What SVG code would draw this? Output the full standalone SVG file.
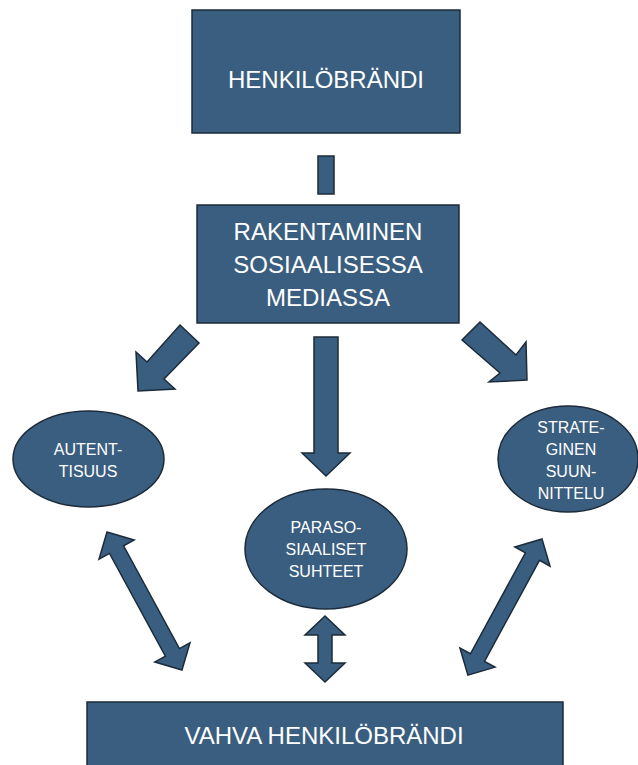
<svg xmlns="http://www.w3.org/2000/svg" width="638" height="765" viewBox="0 0 638 765">
<style>
.shape{fill:#3a5e80;stroke:#1c2b3a;stroke-width:1.5;stroke-linejoin:miter}
.big{font-family:"Liberation Sans",Arial,sans-serif;font-size:24px;fill:#ffffff;text-anchor:middle}
.small{font-family:"Liberation Sans",Arial,sans-serif;font-size:16px;fill:#ffffff;text-anchor:middle}
</style>
<rect width="638" height="765" fill="#ffffff"/>
<g id="connectors">
<rect class="shape" x="318" y="156" width="16" height="38"/>
<polygon class="shape" points="180,325 199,343 164,379 175,389 138,391 136,352 147,362"/>
<polygon class="shape" points="314,337 338,337 338,453 350,453 326,476 302,453 314,453"/>
<polygon class="shape" points="480,322 516,355 526,342 527,380 489,382 500,373 462,340"/>
<polygon class="shape" transform="translate(107,532) rotate(61.48)" points="0,0 20,-20 20,-8 137,-8 137,-20 157,0 137,20 137,8 20,8 20,20"/>
<polygon class="shape" transform="translate(325,616) rotate(90)" points="0,0 19,-20 19,-7 47,-7 47,-20 66,0 47,20 47,7 19,7 19,20"/>
<polygon class="shape" transform="translate(542,539) rotate(118.55)" points="0,0 20,-20 20,-8 135,-8 135,-20 155,0 135,20 135,8 20,8 20,20"/>
</g>
<g id="henkilobrandi">
<rect class="shape" x="192" y="10" width="268" height="123"/>
<text class="big" x="326" y="88">HENKILÖBRÄNDI</text>
</g>
<g id="rakentaminen">
<rect class="shape" x="197" y="205" width="262" height="118"/>
<text class="big" x="328" y="240">RAKENTAMINEN</text>
<text class="big" x="328" y="273">SOSIAALISESSA</text>
<text class="big" x="328" y="306">MEDIASSA</text>
</g>
<g id="autenttisuus">
<ellipse class="shape" cx="88.5" cy="459" rx="75.5" ry="48"/>
<text class="small" x="88" y="455">AUTENT-</text>
<text class="small" x="88" y="477">TISUUS</text>
</g>
<g id="parasosiaaliset">
<ellipse class="shape" cx="326" cy="549" rx="81" ry="60"/>
<text class="small" x="326" y="533">PARASO-</text>
<text class="small" x="326" y="555">SIAALISET</text>
<text class="small" x="326" y="577">SUHTEET</text>
</g>
<g id="strateginen">
<ellipse class="shape" cx="568" cy="459" rx="70" ry="53"/>
<text class="small" x="571" y="433">STRATE-</text>
<text class="small" x="571" y="455">GINEN</text>
<text class="small" x="571" y="477">SUUN-</text>
<text class="small" x="571" y="499">NITTELU</text>
</g>
<g id="vahva">
<rect class="shape" x="87" y="702" width="476" height="75"/>
<text class="big" x="324" y="744">VAHVA HENKILÖBRÄNDI</text>
</g>
</svg>
